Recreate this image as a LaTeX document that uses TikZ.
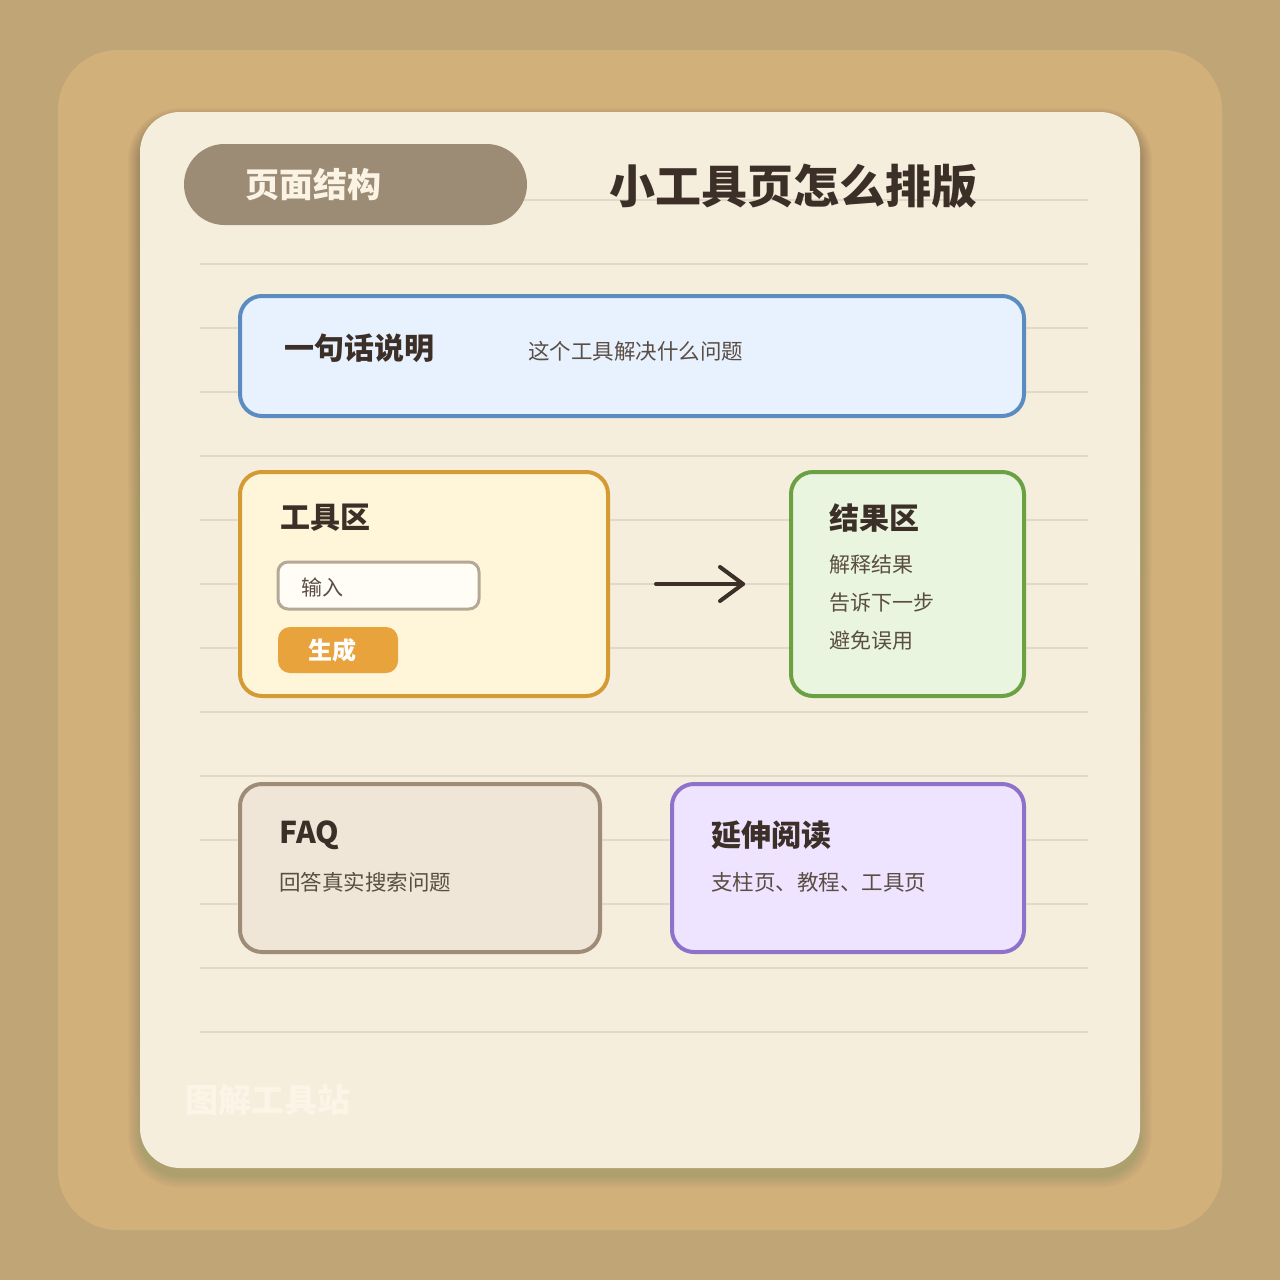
\documentclass[tikz,border=0pt]{standalone}
\usepackage{fontspec}
\setmainfont{Noto Sans CJK SC}
\definecolor{bg}{HTML}{C0A677}
\definecolor{frame}{HTML}{D2B07A}
\definecolor{card}{HTML}{F6EEDD}
\definecolor{rule}{HTML}{E3D8C8}
\definecolor{pill}{HTML}{9C8C76}
\definecolor{pilltext}{HTML}{FBF3E4}
\definecolor{ink}{HTML}{3B2F27}
\definecolor{body}{HTML}{5A4D43}
\definecolor{blueF}{HTML}{E8F2FF}
\definecolor{blueD}{HTML}{5B8CC0}
\definecolor{yelF}{HTML}{FFF6DA}
\definecolor{yelD}{HTML}{D49B35}
\definecolor{grnF}{HTML}{EAF5DF}
\definecolor{grnD}{HTML}{6BA043}
\definecolor{tanF}{HTML}{F0E6D8}
\definecolor{tanD}{HTML}{9E8C76}
\definecolor{purF}{HTML}{EFE4FF}
\definecolor{purD}{HTML}{8E71C8}
\definecolor{inF}{HTML}{FFFDF5}
\definecolor{inD}{HTML}{B5A896}
\definecolor{btn}{HTML}{E8A33D}
\definecolor{wm}{HTML}{FBF4E7}
\definecolor{shade}{HTML}{8A6530}
\tikzset{
  panel/.style={draw, line width=4pt, rounded corners=22pt, inner sep=0pt},
  ttl/.style={anchor=west, inner sep=0pt, text=ink, font=\fontsize{30}{34}\selectfont\bfseries},
  txt/.style={anchor=west, inner sep=0pt, text=body, font=\fontsize{21.5}{25}\selectfont},
  rulel/.style={draw=rule, line width=2.5pt},
}
\begin{document}
\begin{tikzpicture}[x=1pt,y=-1pt]
\useasboundingbox (0,0) rectangle (1280,1280);
\fill[bg] (0,0) rectangle (1280,1280);
\fill[frame, rounded corners=60pt] (58,50) rectangle (1222,1230);
% card shadow (soft, mostly below)
\foreach \i in {1,...,12} {
  \fill[shade, opacity=0.012, rounded corners={40pt+\i pt}] (140-\i,120-\i) rectangle (1140+\i,1176+\i);
}
\fill[card, rounded corners=40pt] (140,112) rectangle (1140,1168);
% ruled lines
\foreach \yy in {200,264,...,1032} {
  \draw[rulel] (200,\yy) -- (1088,\yy);
}
% header
\node[fill=pill, rounded corners=40.5pt, minimum width=343pt, minimum height=81pt, inner sep=0pt] (pill) at (355.5,184.5) {};
\node[anchor=west, inner sep=0pt, text=pilltext, font=\fontsize{34}{38}\selectfont\bfseries] (pilltxt) at (245,185) {页面结构};
\node[anchor=west, inner sep=0pt, text=ink, font=\fontsize{46}{50}\selectfont\bfseries] (title) at (609,186) {小工具页怎么排版};
% box 1
\node[panel, draw=blueD, fill=blueF, minimum width=784pt, minimum height=120pt] (b1) at (632,356) {};
\node[ttl] (b1t) at (284,348) {一句话说明};
\node[txt, font=\fontsize{21.5}{25}\selectfont] (b1s) at (528,351) {这个工具解决什么问题};
% box 2 tool
\node[panel, draw=yelD, fill=yelF, minimum width=368pt, minimum height=224pt] (b2) at (424,584) {};
\node[ttl] (b2t) at (280,518) {工具区};
\node[draw=inD, fill=inF, line width=3pt, rounded corners=10pt, minimum width=201pt, minimum height=47pt, inner sep=0pt] (inp) at (378.5,585.5) {};
\node[txt, font=\fontsize{21}{25}\selectfont] (inpt) at (301,587) {输入};
\node[fill=btn, rounded corners=12pt, minimum width=120pt, minimum height=46pt, inner sep=0pt] (btn) at (338,650) {};
\node[anchor=west, inner sep=0pt, text=white, font=\fontsize{24}{28}\selectfont\bfseries] (btnt) at (308,650) {生成};
% box 3 result
\node[panel, draw=grnD, fill=grnF, minimum width=233pt, minimum height=224pt] (b3) at (907.5,584) {};
\node[ttl] (b3t) at (829,518) {结果区};
\node[txt, font=\fontsize{21}{25}\selectfont] (b3a) at (829,565) {解释结果};
\node[txt, font=\fontsize{21}{25}\selectfont] (b3b) at (829,603) {告诉下一步};
\node[txt, font=\fontsize{21}{25}\selectfont] (b3c) at (829,641) {避免误用};
% arrow
\coordinate (as) at (656,584);
\coordinate (ae) at (743,584);
\draw[ink, line width=4pt, line cap=round, line join=round] (as) -- (ae);
\draw[ink, line width=4pt, line cap=round, line join=round] (ae) ++(-23,-17) -- (ae) -- ++(-23,17);
% box 4 FAQ
\node[panel, draw=tanD, fill=tanF, minimum width=360pt, minimum height=168pt] (b4) at (420,868) {};
\node[ttl] (b4t) at (279,835) {FAQ};
\node[txt] (b4s) at (279,882) {回答真实搜索问题};
% box 5
\node[panel, draw=purD, fill=purF, minimum width=352pt, minimum height=168pt] (b5) at (848,868) {};
\node[ttl] (b5t) at (711,835) {延伸阅读};
\node[txt] (b5s) at (711,882) {支柱页、教程、工具页};
% watermark
\node[anchor=west, inner sep=0pt, text=wm, font=\fontsize{33}{37}\selectfont\bfseries] (wmk) at (185,1100) {图解工具站};
\end{tikzpicture}
\end{document}
